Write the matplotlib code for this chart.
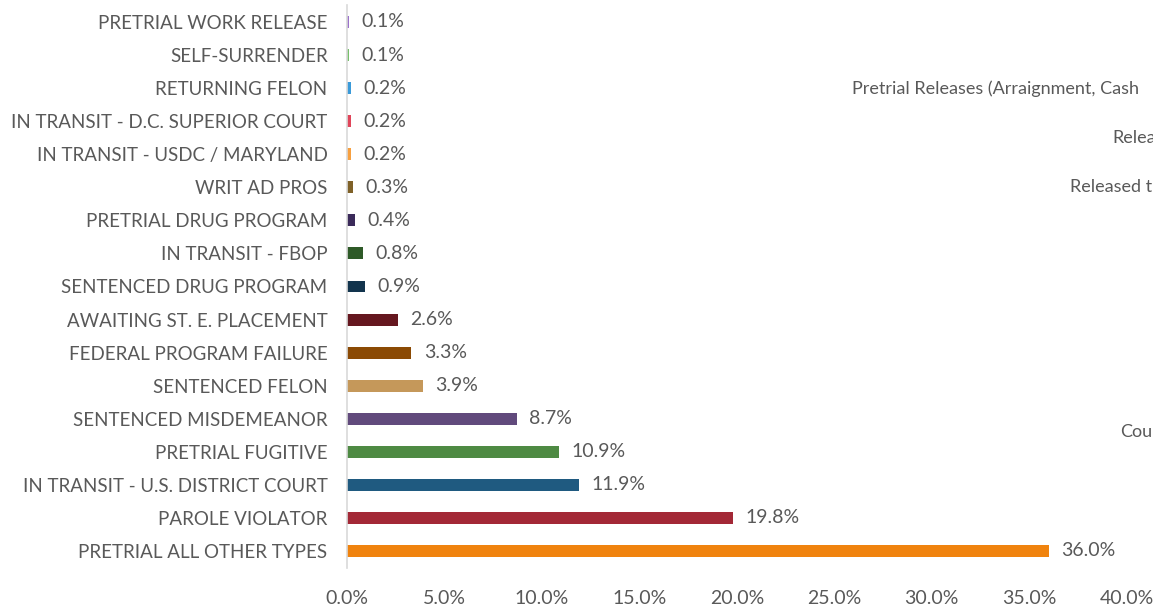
import matplotlib
matplotlib.use("Agg")
import matplotlib.pyplot as plt
from matplotlib.ticker import FuncFormatter

# categories, bottom to top as drawn
categories = [
    "PRETRIAL ALL OTHER TYPES",
    "PAROLE VIOLATOR",
    "IN TRANSIT - U.S. DISTRICT COURT",
    "PRETRIAL FUGITIVE",
    "SENTENCED MISDEMEANOR",
    "SENTENCED FELON",
    "FEDERAL PROGRAM FAILURE",
    "AWAITING ST. E. PLACEMENT",
    "SENTENCED DRUG PROGRAM",
    "IN TRANSIT - FBOP",
    "PRETRIAL DRUG PROGRAM",
    "WRIT AD PROS",
    "IN TRANSIT - USDC / MARYLAND",
    "IN TRANSIT - D.C. SUPERIOR COURT",
    "RETURNING FELON",
    "SELF-SURRENDER",
    "PRETRIAL WORK RELEASE",
]
percent = [36.0, 19.8, 11.9, 10.9, 8.7, 3.9, 3.3, 2.6, 0.9, 0.8, 0.4, 0.3, 0.2, 0.2, 0.2, 0.1, 0.1]
bar_colors = [
    "#f0830e", "#a32836", "#1f5a80", "#4e8a43", "#614a7c", "#c5985a",
    "#8b4a04", "#65171f", "#12344d", "#2e5a28", "#3b2a5a", "#7f6128",
    "#f7a040", "#e0455a", "#3a9ad9", "#77c06b", "#9b72cb",
]
x_ticks = [0, 5, 10, 15, 20, 25, 30, 35, 40]

# leftover labels of a neighbouring chart, only the visible part
side_texts = [
    "Pretrial Releases (Arraignment, Cash",
    "Relea",
    "Released t",
    "Cou",
]

grey = "#595959"
plt.rcParams["font.family"] = ["Lato", "DejaVu Sans"]

fig = plt.figure(figsize=(11.53, 6.06), dpi=100)
ax = fig.add_axes([0.301, 0.0635, 0.676, 0.9275])

ypos = list(range(len(categories)))
ax.barh(ypos, percent, height=0.36, color=bar_colors)

for y, v in zip(ypos, percent):
    ax.annotate(f"{v:.1f}%", (v, y), xytext=(9, 0), textcoords="offset points",
                va="center", ha="left", fontsize=14, color=grey)

ax.set_xlim(0, 40)
ax.set_ylim(-0.5, len(categories) - 0.5)
ax.set_yticks(ypos)
ax.set_yticklabels(categories, fontsize=13.5)
ax.set_xticks(x_ticks)
ax.xaxis.set_major_formatter(FuncFormatter(lambda v, p: f"{v:.1f}%"))
ax.tick_params(axis="both", length=0, labelcolor=grey)
ax.tick_params(axis="x", labelsize=14, pad=16)
ax.tick_params(axis="y", pad=14)

for s in ["top", "right", "bottom"]:
    ax.spines[s].set_visible(False)
ax.spines["left"].set_color("#d9d9d9")
ax.spines["left"].set_linewidth(1.2)

# positions in pixels from the top-left of the picture
side_pos = [(852, 89), (1112, 138), (1070, 187), (1120, 432)]
for txt, (px, py) in zip(side_texts, side_pos):
    fig.text(px / 1153, 1 - py / 606, txt, ha="left", va="center",
             fontsize=13, color=grey)

fig.savefig("out.png", dpi=100)
